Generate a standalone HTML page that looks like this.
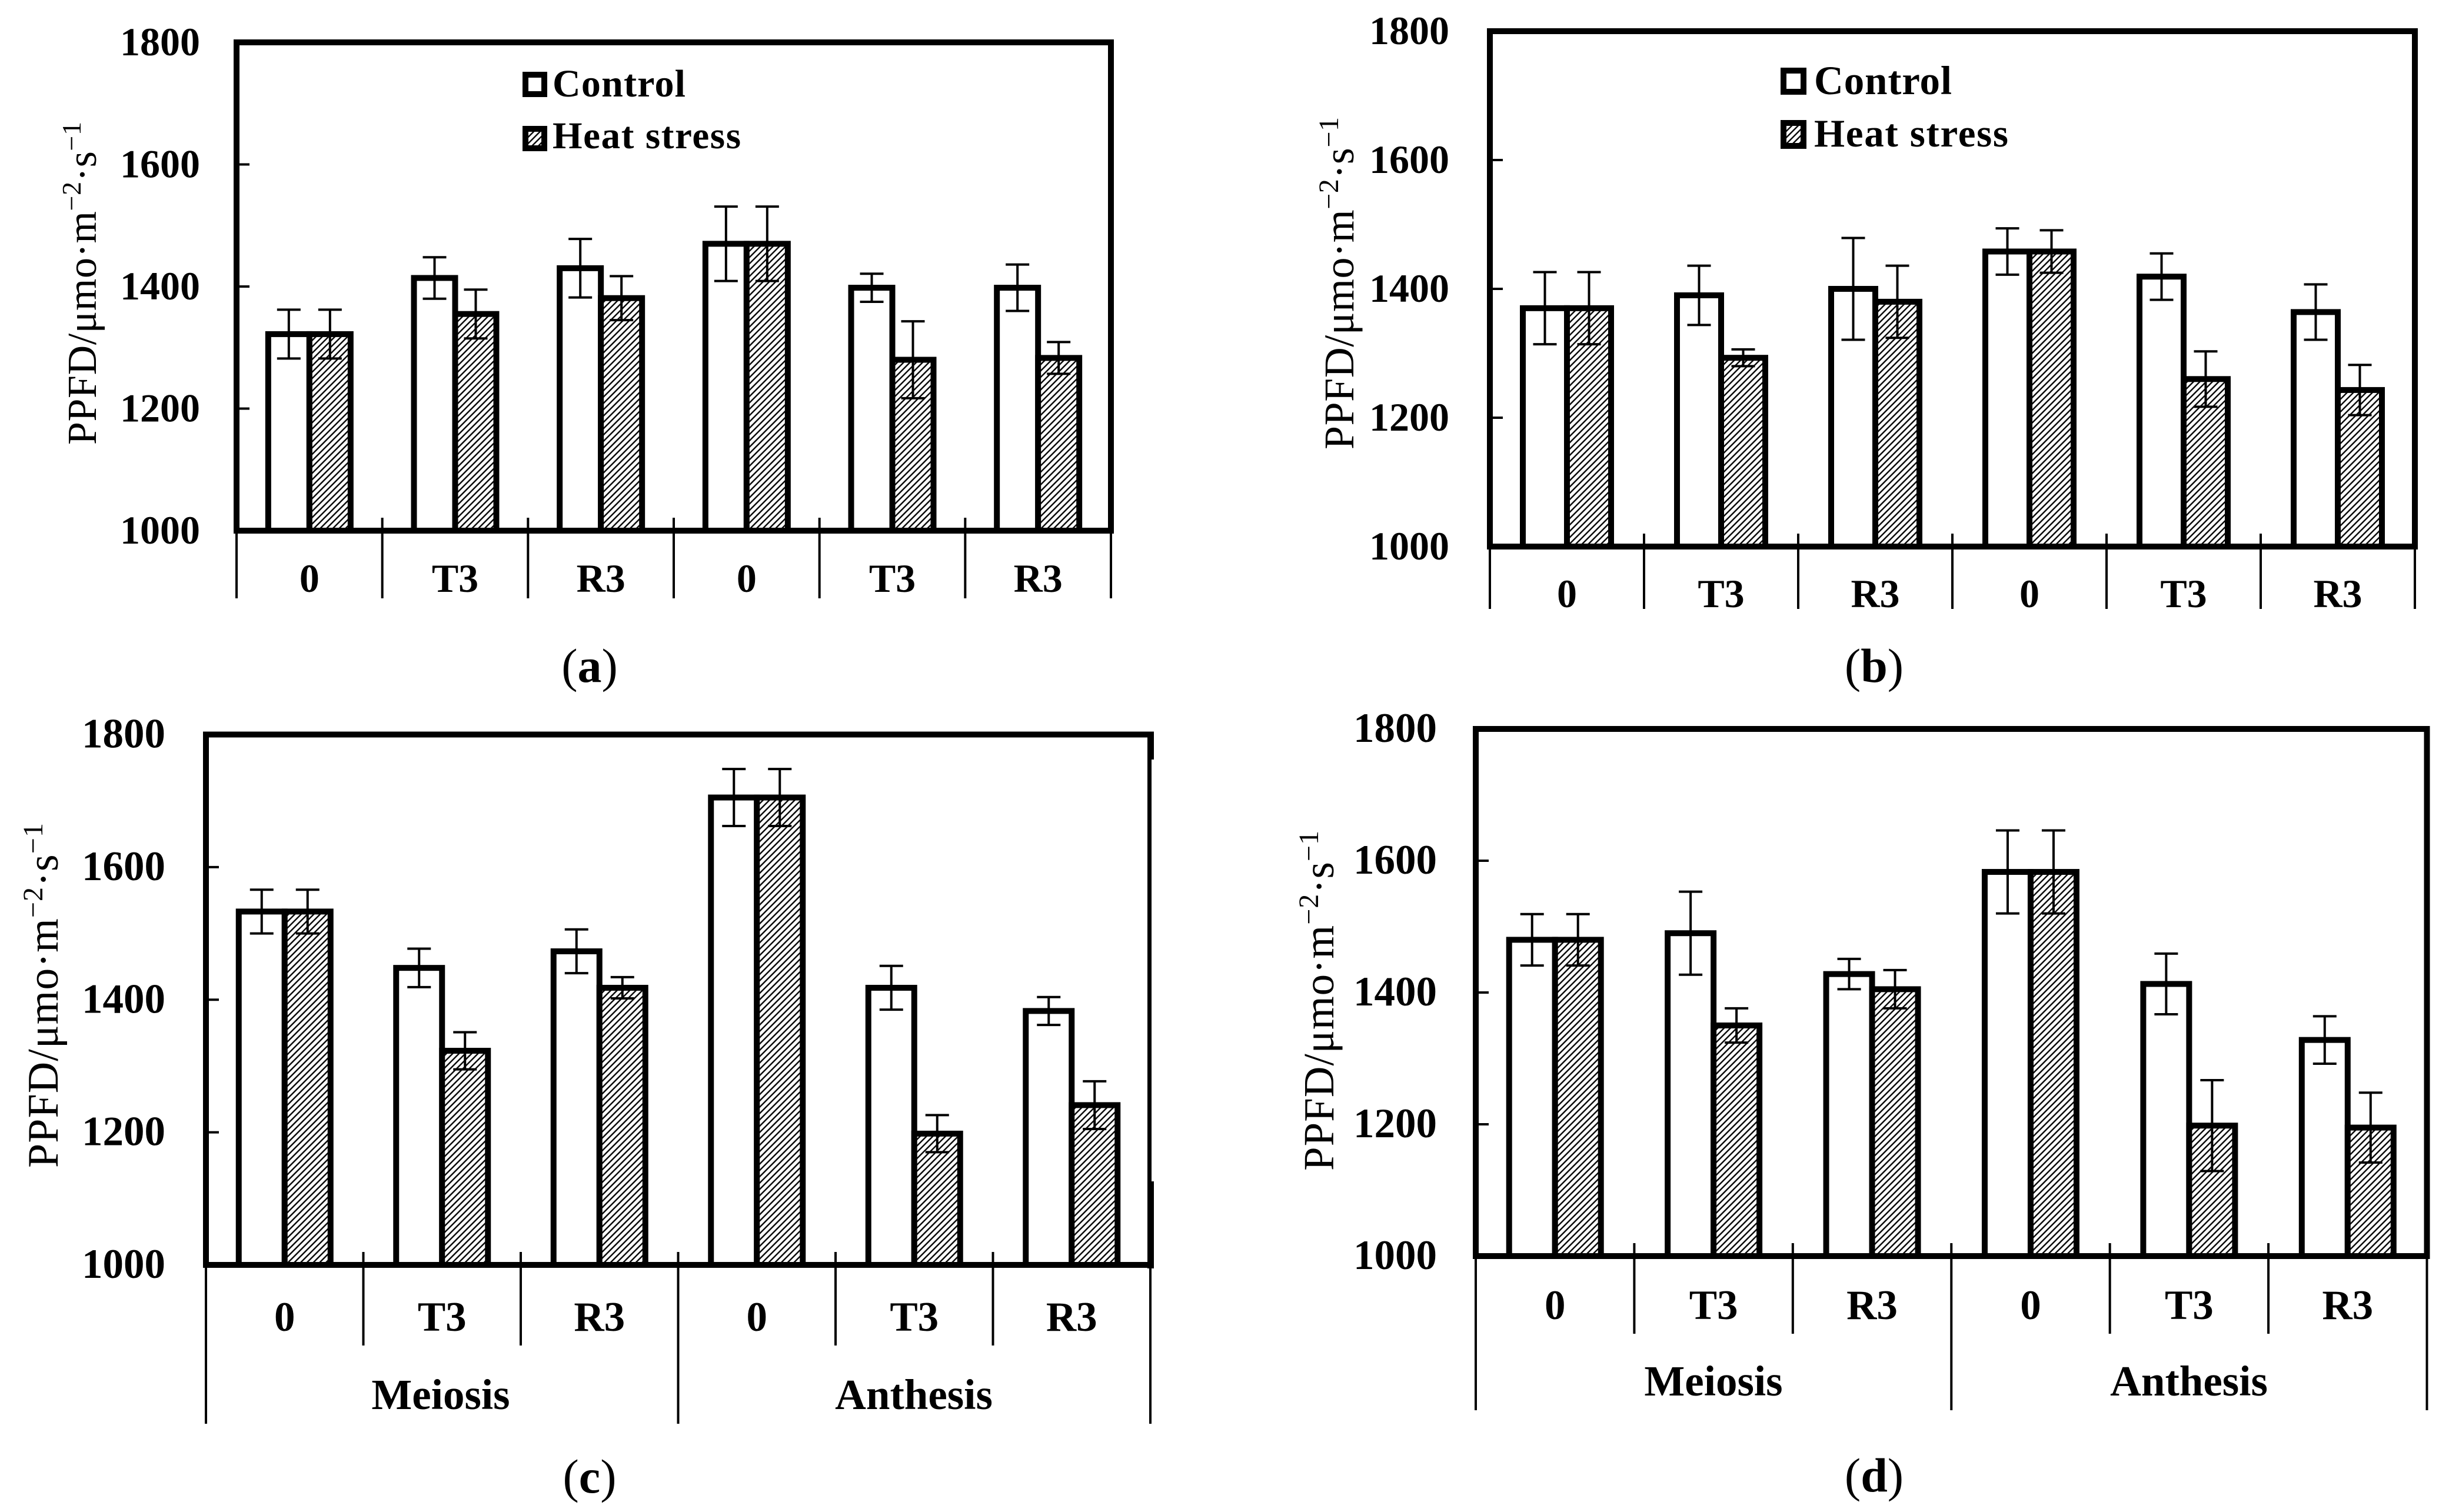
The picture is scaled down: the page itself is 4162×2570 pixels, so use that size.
<!DOCTYPE html>
<html lang="en">
<head>
<meta charset="utf-8">
<title>PPFD under control and heat stress</title>
<style>
html,body{margin:0;padding:0;background:#fff;}
svg{display:block;}
text{font-family:"Liberation Serif",serif;fill:#000;}
.b{font-weight:bold;}
</style>
</head>
<body>
<svg id="figure" xmlns="http://www.w3.org/2000/svg" width="4162" height="2570" viewBox="0 0 4162 2570">
<defs>
<pattern id="hatch" patternUnits="userSpaceOnUse" width="7.6" height="7.6" patternTransform="rotate(45)">
<rect width="7.6" height="7.6" fill="#fff"/>
<line x1="1.5" y1="0" x2="1.5" y2="7.6" stroke="#000" stroke-width="2.4"/>
</pattern>
</defs>
<rect width="4162" height="2570" fill="#fff"/>

<g id="panel-a">
<text transform="translate(163,756) rotate(-90)" font-size="70" textLength="549">PPFD/μmo·m<tspan font-size="46" dy="-26">−2</tspan><tspan dy="26">·s</tspan><tspan font-size="46" dy="-26">−1</tspan></text>
<rect x="893" y="127" width="32" height="33" fill="#fff" stroke="#000" stroke-width="10"/>
<text class="b" x="939" y="164" font-size="66" textLength="226">Control</text>
<rect x="893" y="219" width="32" height="33" fill="url(#hatch)" stroke="#000" stroke-width="10"/>
<text class="b" x="939" y="252" font-size="65" textLength="320">Heat stress</text>
<text x="1002" y="1159" font-size="82" text-anchor="middle">(<tspan class="b">a</tspan>)</text>
</g>

<g id="panel-b">
<text transform="translate(2300,764) rotate(-90)" font-size="72" textLength="565">PPFD/μmo·m<tspan font-size="48" dy="-26">−2</tspan><tspan dy="26">·s</tspan><tspan font-size="48" dy="-26">−1</tspan></text>
<rect x="3031" y="120" width="34" height="36" fill="#fff" stroke="#000" stroke-width="10"/>
<text class="b" x="3083" y="160" font-size="69" textLength="234">Control</text>
<rect x="3031" y="209" width="34" height="39" fill="url(#hatch)" stroke="#000" stroke-width="10"/>
<text class="b" x="3083" y="249" font-size="67" textLength="330">Heat stress</text>
<text x="3185" y="1159" font-size="82" text-anchor="middle">(<tspan class="b">b</tspan>)</text>
</g>

<g id="panel-c">
<text transform="translate(98,1985) rotate(-90)" font-size="74" textLength="586">PPFD/μmo·m<tspan font-size="48" dy="-26">−2</tspan><tspan dy="26">·s</tspan><tspan font-size="48" dy="-26">−1</tspan></text>
<text class="b" x="749" y="2395" font-size="73" text-anchor="middle">Meiosis</text>
<text class="b" x="1553" y="2395" font-size="73" text-anchor="middle">Anthesis</text>
<text x="1002" y="2537" font-size="82" text-anchor="middle">(<tspan class="b">c</tspan>)</text>
</g>

<g id="panel-d">
<text transform="translate(2266,1990) rotate(-90)" font-size="73" textLength="578">PPFD/μmo·m<tspan font-size="48" dy="-26">−2</tspan><tspan dy="26">·s</tspan><tspan font-size="48" dy="-26">−1</tspan></text>
<text class="b" x="2912" y="2372" font-size="73" text-anchor="middle">Meiosis</text>
<text class="b" x="3720" y="2372" font-size="73" text-anchor="middle">Anthesis</text>
<text x="3185" y="2535" font-size="82" text-anchor="middle">(<tspan class="b">d</tspan>)</text>
</g>
</svg>

<script>
// ---- chart data ----
const categories = ['0', 'T3', 'R3', '0', 'T3', 'R3'];
const yTickLabels = ['1000', '1200', '1400', '1600', '1800'];

const aControl = [1322, 1414, 1430, 1470, 1398, 1398];
const aControlErr = [40, 34, 48, 61, 23, 38];
const aHeat = [1322, 1355, 1381, 1470, 1280, 1283];
const aHeatErr = [40, 40, 36, 61, 63, 26];

const bControl = [1370, 1390, 1400, 1458, 1419, 1364];
const bControlErr = [56, 46, 79, 36, 36, 43];
const bHeat = [1370, 1293, 1380, 1458, 1260, 1243];
const bHeatErr = [56, 13, 56, 33, 43, 39];

const cControl = [1533, 1448, 1473, 1705, 1418, 1383];
const cControlErr = [33, 29, 33, 43, 33, 21];
const cHeat = [1533, 1323, 1418, 1705, 1198, 1241];
const cHeatErr = [33, 28, 16, 43, 28, 36];

const dControl = [1480, 1490, 1428, 1583, 1413, 1328];
const dControlErr = [39, 63, 23, 63, 46, 36];
const dHeat = [1480, 1350, 1405, 1583, 1198, 1195];
const dHeatErr = [39, 26, 29, 63, 69, 53];

// ---- panel layout (pixels) ----
const layoutA = {id: 'panel-a', left: 402, right: 1888, top: 72, bottom: 902, barW: 70, font: 68, tickRight: 340, catBase: 1006, tickEnd: 1017, longEnd: 1017, rightW: 10};
const layoutB = {id: 'panel-b', left: 2532, right: 4104, top: 53, bottom: 929, barW: 75, font: 68, tickRight: 2463, catBase: 1032, tickEnd: 1035, longEnd: 1035, rightW: 10};
const layoutC = {id: 'panel-c', left: 350, right: 1955, top: 1248.5, bottom: 2150, barW: 78, font: 71, tickRight: 281, catBase: 2262, tickEnd: 2287, longEnd: 2420, rightW: 7};
const layoutD = {id: 'panel-d', left: 2508, right: 4124.5, top: 1239, bottom: 2135, barW: 78, font: 71, tickRight: 2442, catBase: 2242, tickEnd: 2267, longEnd: 2397, rightW: 10};

const SVG_NS = 'http://www.w3.org/2000/svg';

function make(tag, parent, props) {
  const el = document.createElementNS(SVG_NS, tag);
  for (const key in props) {
    el.setAttribute(key, props[key]);
  }
  parent.appendChild(el);
  return el;
}

function drawPanel(layout, control, controlErr, heat, heatErr) {
  const root = document.getElementById(layout.id);
  const minV = Number(yTickLabels[0]);
  const maxV = Number(yTickLabels[yTickLabels.length - 1]);
  const yScale = function (v) {
    return layout.bottom - (v - minV) / (maxV - minV) * (layout.bottom - layout.top);
  };
  const groupW = (layout.right - layout.left) / categories.length;
  const xCenter = function (i) {
    return layout.left + (i + 0.5) * groupW;
  };

  // bars
  categories.forEach(function (cat, i) {
    const cx = xCenter(i);
    const w = layout.barW;
    const controlBar = make('rect', root, {x: cx - w, y: yScale(control[i]), width: w, height: layout.bottom - yScale(control[i]), fill: '#fff', stroke: '#000', 'stroke-width': 10});
    
    
    const heatBar = make('rect', root, {x: cx, y: yScale(heat[i]), width: w, height: layout.bottom - yScale(heat[i]), fill: 'url(#hatch)', stroke: '#000', 'stroke-width': 10});
    
    
  });

  // error bars
  function drawError(x, value, err) {
    const g = make('g', root, {stroke: '#000', 'stroke-width': 4, fill: 'none'});
    
    
    const hi = yScale(value + err);
    const lo = yScale(value - err);
    make('line', g, {x1: x, x2: x, y1: hi, y2: lo});
    make('line', g, {x1: x - 20, x2: x + 20, y1: hi, y2: hi});
    make('line', g, {x1: x - 20, x2: x + 20, y1: lo, y2: lo});
  }
  categories.forEach(function (cat, i) {
    const cx = xCenter(i);
    drawError(cx - layout.barW / 2, control[i], controlErr[i]);
    drawError(cx + layout.barW / 2, heat[i], heatErr[i]);
  });

  // frame
  const frameTop = make('line', root, {x1: layout.left - 5, x2: layout.right + layout.rightW / 2, y1: layout.top, y2: layout.top, stroke: '#000', 'stroke-width': 10});
  
  
  const frameLeft = make('line', root, {x1: layout.left, x2: layout.left, y1: layout.top - 5, y2: layout.bottom + 5, stroke: '#000', 'stroke-width': 10});
  
  
  const frameRight = make('line', root, {x1: layout.right - (10 - layout.rightW) / 2, x2: layout.right - (10 - layout.rightW) / 2, y1: layout.top - 5, y2: layout.bottom + 5, stroke: '#000', 'stroke-width': layout.rightW});
  
  
  const frameBottom = make('line', root, {x1: layout.left - 5, x2: layout.right + 5, y1: layout.bottom, y2: layout.bottom, stroke: '#000', 'stroke-width': 10});
  
  

  // y ticks and labels
  yTickLabels.forEach(function (label) {
    const y = yScale(Number(label));
    if (label !== yTickLabels[0] && label !== yTickLabels[yTickLabels.length - 1]) {
      const tick = make('line', root, {x1: layout.left, x2: layout.left + 22, y1: y, y2: y, stroke: '#000', 'stroke-width': 4});
      
      
    }
    const text = make('text', root, {x: layout.tickRight, y: y + 22, 'font-size': layout.font, 'text-anchor': 'end', 'class': 'b'});
    text.textContent = label;
    
    
  });

  // x separators and category labels
  for (let i = 0; i <= categories.length; i++) {
    const x = layout.left + i * groupW;
    const isLong = i === 0 || i === 3 || i === categories.length;
    const sep = make('line', root, {x1: x, x2: x, y1: layout.bottom - 22, y2: isLong ? layout.longEnd : layout.tickEnd, stroke: '#000', 'stroke-width': 4});
    
    
  }
  categories.forEach(function (cat, i) {
    const text = make('text', root, {x: xCenter(i), y: layout.catBase, 'font-size': layout.font, 'text-anchor': 'middle', 'class': 'b'});
    text.textContent = cat;
    
    
  });
}

drawPanel(layoutA, aControl, aControlErr, aHeat, aHeatErr);
drawPanel(layoutB, bControl, bControlErr, bHeat, bHeatErr);
drawPanel(layoutC, cControl, cControlErr, cHeat, cHeatErr);
drawPanel(layoutD, dControl, dControlErr, dHeat, dHeatErr);

// thickened fragments of panel c right border
const panelC = document.getElementById('panel-c');
const borderUpper = make('rect', panelC, {x: 1950, y: 1243.5, width: 11, height: 47.5, fill: '#000'});


const borderLower = make('rect', panelC, {x: 1950, y: 2008, width: 11, height: 148, fill: '#000'});


</script>
</body>
</html>
